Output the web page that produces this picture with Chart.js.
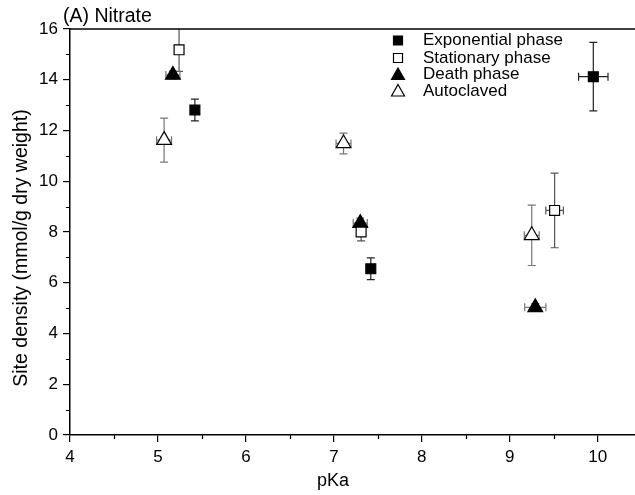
<!DOCTYPE html>
<html>
<head>
<meta charset="utf-8">
<script src="https://cdn.jsdelivr.net/npm/chart.js@4/dist/chart.umd.min.js"></script>
<style>
  html, body { margin: 0; padding: 0; background: #fff; }
  #wrap { width: 635px; height: 495px; position: relative; }
</style>
</head>
<body>
<div id="wrap"><canvas id="c" width="635" height="495"></canvas></div>
<script>
// ---- Data ----
const seriesNames = ['Exponential phase', 'Stationary phase', 'Death phase', 'Autoclaved'];

const expPKa   = [5.42, 7.42, 9.95];
const expSite  = [12.81, 6.55, 14.12];
const expYErr  = [0.43, 0.43, 1.35];
const expXErr  = [0, 0, 0.167];

const statPKa  = [5.24, 7.31, 9.51];
const statSite = [15.18, 8.00, 8.85];
const statYErr = [0.85, 0.35, 1.47];
const statXErr = [0.03, 0.03, 0.10];

const deathPKa  = [5.17, 7.30, 9.29];
const deathSite = [14.19, 8.35, 5.03];
const deathYErr = [0.15, 0.20, 0.15];
const deathXErr = [0.08, 0.08, 0.12];

const autoPKa  = [5.07, 7.11, 9.25];
const autoSite = [11.62, 11.49, 7.87];
const autoYErr = [0.87, 0.41, 1.19];
const autoXErr = [0.085, 0.085, 0.085];

const xTicks = [4, 5, 6, 7, 8, 9, 10];
const yTicks = [0, 2, 4, 6, 8, 10, 12, 14, 16];

const titleText = '(A) Nitrate';
const xTitle = 'pKa';
const yTitle = 'Site density (mmol/g dry weight)';

// ---- helpers ----
function pts(xs, ys, xe, ye) {
  return xs.map((x, i) => ({ x: x, y: ys[i], xErr: xe[i], yErr: ye[i] }));
}
const FONT = "'Liberation Sans', Arial, sans-serif";

const styles = [
  { pointStyle: 'rect', radius: 7, bg: '#000', border: '#000', err: '#222' },
  { pointStyle: 'rect', radius: 7, bg: '#fff', border: '#000', err: '#555' },
  { pointStyle: 'triangle', radius: 8.5, bg: '#000', border: '#000', err: '#777' },
  { pointStyle: 'triangle', radius: 8.5, bg: '#fff', border: '#000', err: '#777' }
];

const rawSets = [
  pts(expPKa, expSite, expXErr, expYErr),
  pts(statPKa, statSite, statXErr, statYErr),
  pts(deathPKa, deathSite, deathXErr, deathYErr),
  pts(autoPKa, autoSite, autoXErr, autoYErr)
];

const datasets = rawSets.map((d, i) => ({
  label: seriesNames[i],
  data: d,
  pointStyle: styles[i].pointStyle,
  pointRadius: styles[i].radius,
  pointHoverRadius: styles[i].radius,
  pointBackgroundColor: styles[i].bg,
  pointBorderColor: styles[i].border,
  pointBorderWidth: 1.2,
  showLine: false,
  errColor: styles[i].err
}));

const errorBars = {
  id: 'errorBars',
  beforeDatasetsDraw(chart) {
    const ctx = chart.ctx, xs = chart.scales.x, ys = chart.scales.y, a = chart.chartArea;
    ctx.save();
    ctx.beginPath();
    ctx.rect(a.left, a.top, a.right - a.left, a.bottom - a.top);
    ctx.clip();
    chart.data.datasets.forEach(ds => {
      ctx.strokeStyle = ds.errColor;
      ctx.lineWidth = 1.2;
      ds.data.forEach(p => {
        const px = xs.getPixelForValue(p.x), py = ys.getPixelForValue(p.y);
        const cap = 4;
        if (p.yErr) {
          const t = ys.getPixelForValue(p.y + p.yErr), b = ys.getPixelForValue(p.y - p.yErr);
          ctx.beginPath();
          ctx.moveTo(px, t); ctx.lineTo(px, b);
          ctx.moveTo(px - cap, t); ctx.lineTo(px + cap, t);
          ctx.moveTo(px - cap, b); ctx.lineTo(px + cap, b);
          ctx.stroke();
        }
        if (p.xErr) {
          const l = xs.getPixelForValue(p.x - p.xErr), r = xs.getPixelForValue(p.x + p.xErr);
          ctx.beginPath();
          ctx.moveTo(l, py); ctx.lineTo(r, py);
          ctx.moveTo(l, py - cap); ctx.lineTo(l, py + cap);
          ctx.moveTo(r, py - cap); ctx.lineTo(r, py + cap);
          ctx.stroke();
        }
      });
    });
    ctx.restore();
  }
};

const decor = {
  id: 'decor',
  afterDraw(chart) {
    const ctx = chart.ctx, xs = chart.scales.x, ys = chart.scales.y, a = chart.chartArea;
    ctx.save();
    ctx.strokeStyle = '#000';
    ctx.lineWidth = 1.5;
    // top frame line
    ctx.beginPath();
    ctx.moveTo(a.left, a.top); ctx.lineTo(a.right, a.top);
    ctx.stroke();
    // minor ticks
    ctx.lineWidth = 1.2;
    ctx.beginPath();
    for (let v = 4.5; v <= xs.max; v += 1) {
      const px = Math.round(xs.getPixelForValue(v)) + 0.5;
      ctx.moveTo(px, a.bottom); ctx.lineTo(px, a.bottom + 4);
    }
    for (let v = 1; v <= ys.max; v += 2) {
      const py = Math.round(ys.getPixelForValue(v)) + 0.5;
      ctx.moveTo(a.left, py); ctx.lineTo(a.left - 4, py);
    }
    ctx.stroke();
    ctx.fillStyle = '#000';
    // title
    ctx.font = '19.5px ' + FONT;
    ctx.textBaseline = 'alphabetic';
    ctx.textAlign = 'left';
    ctx.fillText(titleText, 63, 22);
    // axis titles
    ctx.font = '18px ' + FONT;
    ctx.textAlign = 'center';
    ctx.textBaseline = 'middle';
    ctx.fillText(xTitle, 333, 481);
    ctx.save();
    ctx.translate(22, 248);
    ctx.rotate(-Math.PI / 2);
    ctx.font = '19.5px ' + FONT;
    ctx.fillText(yTitle, 0, 0);
    ctx.restore();
    // legend
    const lx = 398, rows = [40.5, 58, 74.5, 91];
    ctx.font = '17px ' + FONT;
    ctx.textAlign = 'left';
    ctx.textBaseline = 'middle';
    rows.forEach((ry, i) => {
      const s = styles[i];
      ctx.fillStyle = s.bg; ctx.strokeStyle = s.border; ctx.lineWidth = 1.2;
      ctx.beginPath();
      if (s.pointStyle === 'rect') {
        ctx.rect(lx - 4.5, ry - 4.5, 9, 9);
      } else {
        ctx.moveTo(lx, ry - 6.5); ctx.lineTo(lx + 6.5, ry + 5); ctx.lineTo(lx - 6.5, ry + 5); ctx.closePath();
      }
      ctx.fill(); ctx.stroke();
      ctx.fillStyle = '#000';
      ctx.fillText(seriesNames[i], 423, ry);
    });
    ctx.restore();
  }
};

new Chart(document.getElementById('c'), {
  type: 'scatter',
  data: { datasets: datasets },
  options: {
    responsive: false,
    animation: false,
    events: [],
    layout: { autoPadding: false, padding: { top: 29, right: 0, left: 0, bottom: 0 } },
    plugins: { legend: { display: false }, tooltip: { enabled: false }, title: { display: false } },
    scales: {
      x: {
        type: 'linear', min: 4, max: 10.424,
        afterFit(s) { s.height = 60; s.paddingLeft = 0; s.paddingRight = 0; },
        afterBuildTicks(s) { s.ticks = xTicks.map(v => ({ value: v })); },
        border: { display: true, color: '#000', width: 1.5 },
        grid: { display: true, drawOnChartArea: false, drawTicks: true, tickLength: 7, color: '#000', lineWidth: 1.2 },
        ticks: { color: '#000', font: { family: FONT, size: 17 }, padding: 5, maxRotation: 0, autoSkip: false },
        title: { display: false }
      },
      y: {
        type: 'linear', min: 0, max: 16,
        afterFit(s) { s.width = 70; s.paddingTop = 0; s.paddingBottom = 0; },
        afterBuildTicks(s) { s.ticks = yTicks.map(v => ({ value: v })); },
        border: { display: true, color: '#000', width: 1.5 },
        grid: { display: true, drawOnChartArea: false, drawTicks: true, tickLength: 7, color: '#000', lineWidth: 1.2 },
        ticks: { color: '#000', font: { family: FONT, size: 17 }, padding: 5, autoSkip: false },
        title: { display: false }
      }
    }
  },
  plugins: [errorBars, decor]
});
</script>
</body>
</html>
